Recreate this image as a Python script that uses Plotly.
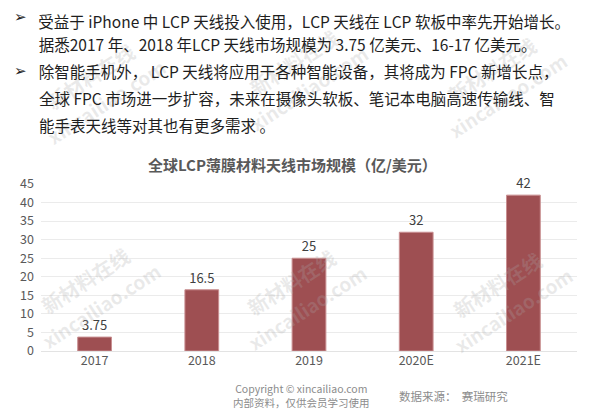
import plotly.graph_objects as go

years = ["2017", "2018", "2019", "2020E", "2021E"]
market_size = [3.75, 16.5, 25, 32, 42]
value_labels = ["3.75", "16.5", "25", "32", "42"]

body_lines = [
    ("➢ ", "受益于 iPhone 中 LCP 天线投入使用，LCP 天线在 LCP 软板中率先开始增长。"),
    ("", "据悉2017 年、2018 年LCP 天线市场规模为 3.75 亿美元、16-17 亿美元。"),
    ("➢ ", "除智能手机外， LCP 天线将应用于各种智能设备，其将成为 FPC 新增长点，"),
    ("", "全球 FPC 市场进一步扩容，未来在摄像头软板、笔记本电脑高速传输线、智"),
    ("", "能手表天线等对其也有更多需求 。"),
]
title_text = "全球LCP薄膜材料天线市场规模（亿/美元）"
source_text = "数据来源：  赛瑞研究"
copyright_lines = ["Copyright © xincailiao.com", "内部资料，仅供会员学习使用"]

# page body has an 8px margin, so work in page pixels and shift
OFF = 8
W, H = 600 - OFF, 411 - OFF
L, R, T, B = 38 - OFF, 23, 184 - OFF, 60
PW, PH = W - L - R, H - T - B

FONT = "Microsoft YaHei, Noto Sans CJK SC, DejaVu Sans, sans-serif"


def px(x, y):
    # page pixel position -> paper coordinates
    return (x - OFF - L) / PW, (H - B - (y - OFF)) / PH


def note(x, y, text, size, color, family=FONT, xanchor="left", angle=0,
         yanchor="middle"):
    ax, ay = px(x, y)
    return dict(x=ax, y=ay, xref="paper", yref="paper", text=text, showarrow=False,
                xanchor=xanchor, yanchor=yanchor, textangle=angle,
                font=dict(size=size, color=color, family=family))


fig = go.Figure()
fig.add_trace(go.Bar(
    x=years,
    y=market_size,
    text=value_labels,
    textposition="outside",
    textfont=dict(size=13, color="#404040", family=FONT),
    marker=dict(color="#9E4F52", line=dict(color="#C98F91", width=1)),
    width=0.315,
    cliponaxis=False,
))

ann = []
# faint watermarks
for cx, cy in [(90, 292), (297, 294), (505, 296), (95, 88), (300, 75), (500, 82)]:
    for k, wm in enumerate(["新材料在线", "xincailiao.com"]):
        ann.append(note(cx - 8 + k * 16, cy - 12 + k * 25, "<b>" + wm + "</b>",
                        20 if k == 0 else 19, "rgba(170,170,170,0.25)",
                        xanchor="center", angle=-33))

for i, (bullet, line) in enumerate(body_lines):
    y = 17 + i * 27
    if bullet:
        ann.append(note(9, y, "➢", 15, "#222222", family="DejaVu Sans"))
    if i == 0:
        ann.append(note(34, OFF, line, 15.5, "#1e1e1e", yanchor="top"))
    else:
        ann.append(note(34, y, line, 15.5, "#1e1e1e"))

ann.append(note(291, 164, "<b>" + title_text + "</b>", 15, "#595959", xanchor="center"))

ann.append(note(229, 395, "<br>".join(copyright_lines), 10.5, "#8c8c8c"))

ann.append(note(396, 396, source_text, 11.5, "#8c8c8c"))

fig.update_layout(
    width=W, height=H,
    margin=dict(l=L, r=R, t=T, b=B),
    paper_bgcolor="white", plot_bgcolor="white",
    showlegend=False,
    annotations=ann,
    xaxis=dict(showgrid=False, showline=False, ticks="",
               tickfont=dict(size=12.5, color="#595959", family=FONT)),
    yaxis=dict(range=[0, 45], dtick=5, showgrid=True, gridcolor="#EBEBEB",
               zeroline=True, zerolinecolor="#E3E3E3", zerolinewidth=1,
               showline=False, ticks="", ticklabelstandoff=6,
               tickfont=dict(size=12.5, color="#595959", family=FONT)),
)

fig.write_html("out.html")
